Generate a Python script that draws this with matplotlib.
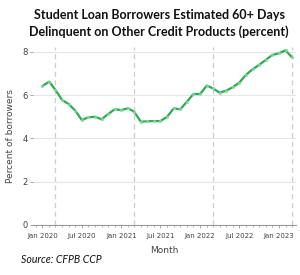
import numpy as np
import pandas as pd
import matplotlib
matplotlib.use("agg")
import matplotlib.pyplot as plt
import matplotlib.dates as mdates

# monthly share of student loan borrowers 60+ days delinquent on other credit
months = pd.date_range("2020-01-01", "2023-03-01", freq="MS")
pct = [6.42, 6.62, 6.24, 5.77, 5.59, 5.28, 4.85, 4.97, 5.00, 4.88, 5.13, 5.34,
       5.31, 5.39, 5.23, 4.77, 4.79, 4.80, 4.80, 5.00, 5.39, 5.34, 5.70, 6.05,
       6.05, 6.44, 6.31, 6.11, 6.20, 6.36, 6.57, 6.93, 7.19, 7.39, 7.62, 7.85,
       7.93, 8.07, 7.76]
# dashed reference lines
marks = pd.to_datetime(["2020-03-01", "2021-03-01", "2022-03-01", "2023-03-01"])
yticks = [0, 2, 4, 6, 8]

fig = plt.figure(figsize=(3.0, 2.75), dpi=100)
ax = fig.add_axes([0.11, 0.182, 0.877, 0.647])

for m in marks:
    ax.axvline(m, color="#cccccc", lw=0.9, ls=(0, (4, 3)), zorder=1)
ax.plot(months, pct, color="#2fa955", lw=1.6, zorder=3)
ax.plot(months, pct, ls="none", marker="o", ms=2.4, mew=0, color="#8fd8a6", alpha=0.8, zorder=4)

ax.set_ylim(0, 8.22)
ax.set_xlim(pd.Timestamp("2019-11-18"), pd.Timestamp("2023-03-22"))
ax.set_yticks(yticks)
ax.grid(axis="y", color="#e6e6e6", lw=0.8)
ax.set_axisbelow(True)
for s in ["top", "right", "left"]:
    ax.spines[s].set_visible(False)
ax.spines["bottom"].set_color("#999999")
ax.spines["bottom"].set_linewidth(0.8)

ax.xaxis.set_major_locator(mdates.MonthLocator(bymonth=[1, 7]))
ax.xaxis.set_major_formatter(mdates.DateFormatter("%b %Y"))
ax.xaxis.set_minor_locator(mdates.MonthLocator())
ax.tick_params(axis="x", which="major", labelsize=5, colors="#999999", labelcolor="#444444", length=2.5, width=0.6)
ax.tick_params(axis="x", which="minor", colors="#999999", length=1.5, width=0.5)
ax.tick_params(axis="y", labelsize=6, colors="#999999", labelcolor="#444444", length=2.5, width=0.6, pad=1.5)

ax.set_xlabel("Month", fontsize=6.5, color="#444444", labelpad=5)
ax.set_ylabel("Percent of borrowers", fontsize=6.5, color="#444444", labelpad=5)

fig.text(0.53, 0.915, "Student Loan Borrowers Estimated 60+ Days\nDelinquent on Other Credit Products (percent)",
         ha="center", va="center", fontsize=9, fontweight="bold", family="Lato",
         linespacing=1.45, color="#111111")
fig.text(0.07, 0.055, "Source: CFPB CCP", ha="left", va="center", fontsize=7.6,
         style="italic", family="Lato", color="#111111")

fig.savefig("out.png", dpi=100)
